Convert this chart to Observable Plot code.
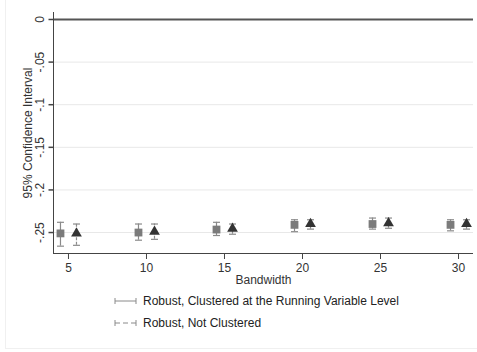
<!DOCTYPE html>
<html>
<head>
<meta charset="utf-8">
<script src="https://cdn.jsdelivr.net/npm/d3@7"></script>
<script src="https://cdn.jsdelivr.net/npm/@observablehq/plot@0.6"></script>
<style>
  body { margin: 0; background: #fff; font-family: "Liberation Sans", Arial, sans-serif; }
  #wrap { position: relative; width: 477px; height: 352px; overflow: hidden; }
  #frame { position: absolute; left: 5px; top: -2px; width: 480px; height: 350px;
           border-left: 1px solid #f0f0f0; border-bottom: 1px solid #f0f0f0; }
  #chart { position: absolute; left: 0; top: 0; }
  #legend { position: absolute; left: 114px; top: 290px; font-size: 12px; color: #222; }
  .row { height: 22px; display: flex; align-items: center; }
  .row svg { margin-right: 6px; }
</style>
</head>
<body>
<div id="wrap">
  <div id="frame"></div>
  <div id="chart"></div>
  <div id="legend"></div>
</div>
<script>
// Bandwidths and 95% confidence intervals of the estimate
const bandwidth = [5, 10, 15, 20, 25, 30];
const clusteredEst = [-0.251, -0.250, -0.2465, -0.241, -0.240, -0.241];
const clusteredLo  = [-0.266, -0.259, -0.2535, -0.249, -0.246, -0.248];
const clusteredHi  = [-0.238, -0.240, -0.238, -0.235, -0.233, -0.235];
const plainEst = [-0.251, -0.249, -0.2455, -0.240, -0.239, -0.240];
const plainLo  = [-0.265, -0.258, -0.252, -0.246, -0.245, -0.246];
const plainHi  = [-0.240, -0.240, -0.240, -0.235, -0.233, -0.235];

const yTicks = [0, -0.05, -0.1, -0.15, -0.2, -0.25];
const yTickLabels = ["0", "-.05", "-.1", "-.15", "-.2", "-.25"];
const xTicks = [5, 10, 15, 20, 25, 30];
const yTitle = "95% Confidence Interval";
const xTitle = "Bandwidth";
const seriesNames = ["Robust, Clustered at the Running Variable Level", "Robust, Not Clustered"];

const xDomain = [4.04, 30.96];
const yDomain = [-0.2746, 0.0082];

const clustered = bandwidth.map((b, i) => ({b, est: clusteredEst[i], lo: clusteredLo[i], hi: clusteredHi[i]}));
const plain = bandwidth.map((b, i) => ({b, est: plainEst[i], lo: plainLo[i], hi: plainHi[i]}));

// short horizontal stroke: interval caps and left-axis ticks
const dash = {
  draw(context, size) {
    const r = Math.sqrt(size / Math.PI);
    context.moveTo(-r, 0);
    context.lineTo(r, 0);
  }
};

const barColor = "#8a8a8a";
const axisColor = "#444";

function intervals(data, dx, dasharray, symbol, fill, r) {
  return [
    Plot.ruleX(data, {x: "b", y1: "lo", y2: "hi", dx, stroke: barColor, strokeWidth: 1.2, strokeDasharray: dasharray}),
    Plot.dot(data, {x: "b", y: "lo", dx, symbol: dash, r: 3.5, fill: "none", stroke: barColor, strokeWidth: 1.2}),
    Plot.dot(data, {x: "b", y: "hi", dx, symbol: dash, r: 3.5, fill: "none", stroke: barColor, strokeWidth: 1.2}),
    Plot.dot(data, {x: "b", y: "est", dx, symbol, r, fill, stroke: "none"})
  ];
}

const chart = Plot.plot({
  width: 477,
  height: 290,
  marginLeft: 53,
  marginRight: 4,
  marginTop: 12,
  marginBottom: 37,
  style: {fontFamily: "'Liberation Sans', Arial, sans-serif", fontSize: "12px", color: "#333", background: "transparent"},
  x: {domain: xDomain},
  y: {domain: yDomain, axis: null},
  marks: [
    Plot.ruleY(yTicks.slice(1), {stroke: "#e8e8e8", strokeWidth: 1}),
    Plot.ruleY([0], {stroke: "#555", strokeWidth: 2}),
    Plot.ruleX([xDomain[0]], {stroke: axisColor, strokeWidth: 1}),
    Plot.ruleY([yDomain[0]], {stroke: axisColor, strokeWidth: 1}),
    ...intervals(clustered, -8, null, "square", "#7b7b7b", 4.4),
    ...intervals(plain, 8, "3,1.5", "triangle", "#333", 4),
    // left axis: ticks, vertical tick labels and title
    Plot.dot(yTicks, {x: xDomain[0], y: (d) => d, symbol: dash, r: 2.5, dx: -2.5, fill: "none", stroke: axisColor}),
    Plot.text(yTicks, {x: xDomain[0], y: (d) => d, text: (d, i) => yTickLabels[i], rotate: -90,
      dx: -13, textAnchor: "middle", lineAnchor: "middle", fill: "#333", fontSize: 12}),
    Plot.text([yTitle], {frameAnchor: "left", text: (d) => d, rotate: -90, dx: -25,
      textAnchor: "middle", lineAnchor: "middle", fill: "#333", fontSize: 12}),
    Plot.axisX({ticks: xTicks, tickSize: 6, tickPadding: 4,
      label: xTitle, labelAnchor: "center", labelOffset: 30, labelArrow: "none", stroke: axisColor, fontSize: 12})
  ]
});
document.getElementById("chart").appendChild(chart);

// legend: solid caps for the clustered intervals, dashed for the unclustered ones
const legend = document.getElementById("legend");
const dashes = [null, "5,3"];
seriesNames.forEach((name, i) => {
  const row = document.createElement("div");
  row.className = "row";
  const da = dashes[i] ? ` stroke-dasharray="${dashes[i]}"` : "";
  row.innerHTML = `<svg width="23" height="8"><g stroke="${barColor}" stroke-width="1">
      <line x1="1" y1="4" x2="22" y2="4"${da}/><line x1="1" y1="1" x2="1" y2="7"/><line x1="22" y1="1" x2="22" y2="7"/></g></svg><span>${name}</span>`;
  legend.appendChild(row);
});
</script>
</body>
</html>
